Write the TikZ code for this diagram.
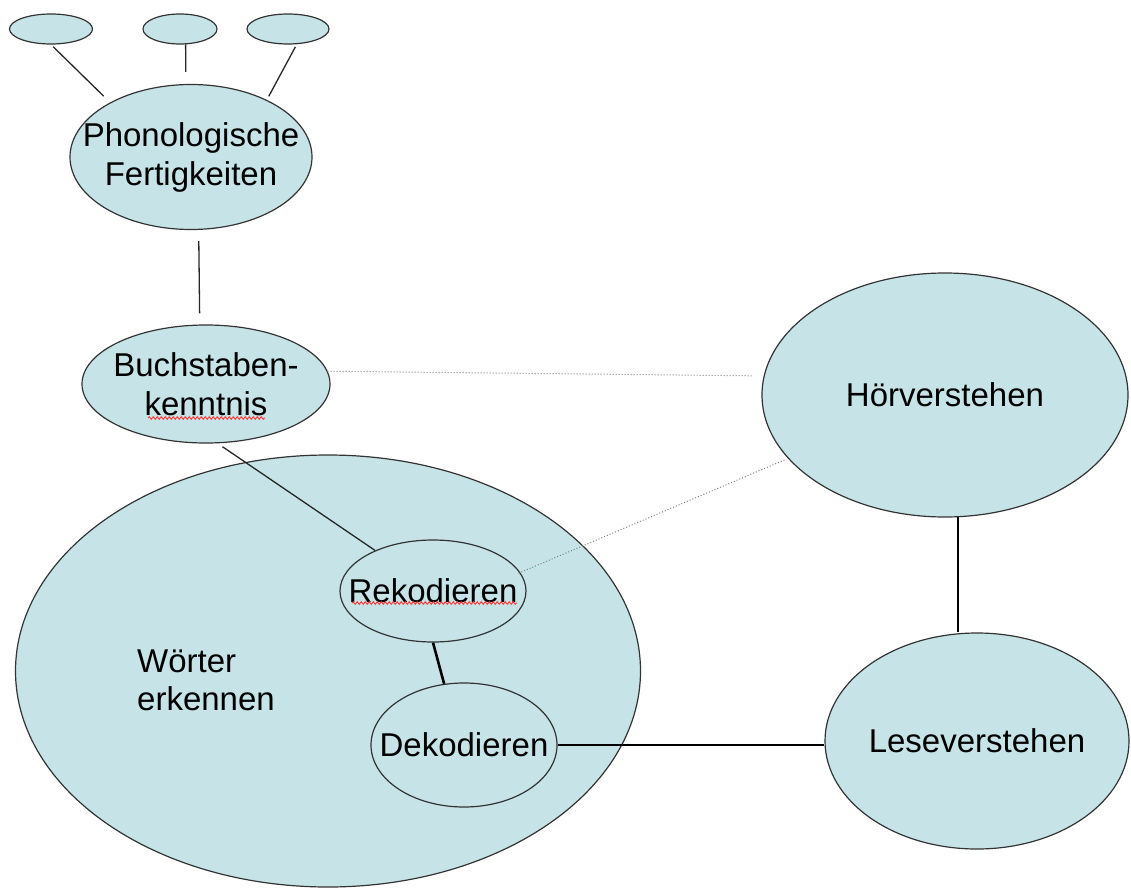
\documentclass[tikz,border=0pt]{standalone}
\usepackage{fontspec}
\setmainfont{Liberation Sans}
\usepackage{xcolor}
\usetikzlibrary{shapes.geometric,decorations.pathmorphing}
\definecolor{paleblue}{RGB}{198,228,231}

\begin{document}
\begin{tikzpicture}[x=1pt,y=-1pt,every label/.style={inner sep=0,align=center,font=\fontsize{33}{39}\selectfont}]%
  \tikzstyle{elln}=[ellipse,draw=black!80,line width=1.2pt,fill=paleblue,inner sep=0]
  \tikzstyle{txtn}=[inner sep=0,align=left,font=\fontsize{33}{38}\selectfont]
  \tikzstyle{thinl}=[line width=1.3pt,black!85]
  \tikzstyle{thickl}=[line width=2.6pt,black]
  \tikzstyle{dotl}=[line width=1pt,gray,dotted]
  \tikzstyle{wavy}=[line width=0.9pt,red!80,decorate,decoration={snake,amplitude=1.3pt,segment length=4pt}]
  \useasboundingbox (0,0) rectangle (1131,888);
  % big ellipse first, the rest on top
  \node(wort)[elln,minimum width=625pt,minimum height=432pt] at (328,671) {};
  \node(wortl)[txtn,anchor=west] at (137,680) {Wörter\\erkennen};
  \node(s1)[elln,minimum width=83pt,minimum height=30pt] at (51,29) {};
  \node(s2)[elln,minimum width=74pt,minimum height=30pt] at (180,29) {};
  \node(s3)[elln,minimum width=82pt,minimum height=30pt] at (288,29) {};
  \node(phon)[elln,minimum width=242pt,minimum height=145pt,label={center:Phonologische\\Fertigkeiten}] at (191,157) {};
  \node(buch)[elln,minimum width=248pt,minimum height=118pt,label={center:Buchstaben-\\kenntnis}] at (206,384) {};
  \node(hoer)[elln,minimum width=366pt,minimum height=244pt,label={center:Hörverstehen}] at (945,395) {};
  \node(reko)[elln,minimum width=186pt,minimum height=102pt,label={center:Rekodieren}] at (433,591) {};
  \node(deko)[elln,minimum width=186pt,minimum height=124pt,label={center:Dekodieren}] at (464,745) {};
  \node(lese)[elln,minimum width=304pt,minimum height=216pt,label={center:Leseverstehen}] at (977,741) {};
  % connectors
  \draw[thinl,shorten <=3pt,shorten >=9pt] (s1.south) -- (phon.146);
  \draw[thinl,shorten >=12pt] (s2.-70) -- (phon.94);
  \draw[thinl,shorten <=3pt,shorten >=4pt] (s3.-60) -- (phon.37);
  \draw[thinl,shorten <=11pt,shorten >=11pt] (phon.-84) -- (buch.96);
  \draw[thinl,shorten <=6pt] (buch.-79) -- (reko.145);
  \draw[thickl] (reko.south) -- (deko.108);
  \draw[thickl] (deko.east) -- (deko.east -| lese.west);
  \draw[thickl] (hoer.-84) -- (hoer.-84 |- lese.north);
  \draw[dotl,shorten >=11pt] (buch.6) -- (hoer.174);
  \draw[dotl,shorten <=-2pt,shorten >=2pt] (reko.12) -- (hoer.202);
  % spell check marks
  \draw[wavy] (148,418) -- (265,418);
  \draw[wavy] (352,603) -- (517,603);
\end{tikzpicture}
\end{document}
